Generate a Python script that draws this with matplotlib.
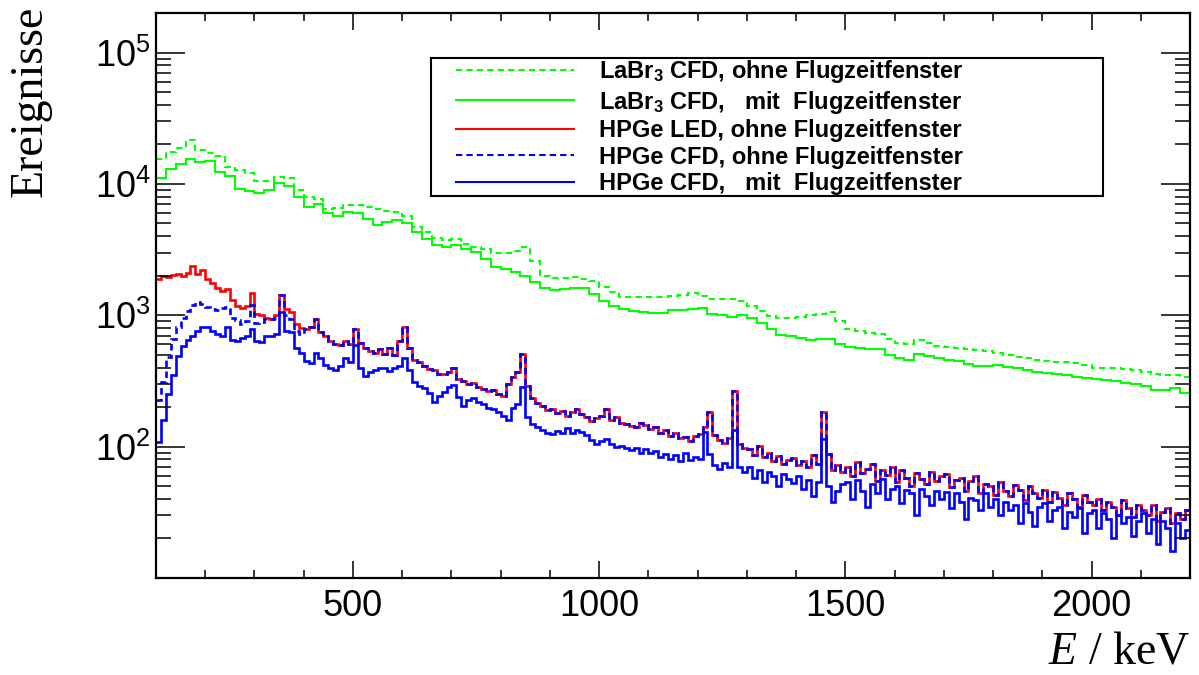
import numpy as np
import matplotlib
matplotlib.use('Agg')
import matplotlib.pyplot as plt
from matplotlib.lines import Line2D
from matplotlib.patches import Rectangle
from matplotlib.ticker import FixedLocator, NullFormatter

plt.rcParams['font.family'] = ['Liberation Sans', 'DejaVu Sans']
plt.rcParams['mathtext.fontset'] = 'custom'
plt.rcParams['mathtext.rm'] = 'Liberation Serif'
plt.rcParams['mathtext.it'] = 'Liberation Serif:italic'
plt.rcParams['mathtext.bf'] = 'Liberation Sans:bold'

# energy range of the histograms (keV)
e_min, e_max = 100, 2200
labr_bin = 20   # LaBr3 spectra
hpge_bin = 10   # HPGe spectra

# LaBr3 CFD, ohne Flugzeitfenster (counts per bin, 100..2200 keV)
labr_ohne = [
    15500, 17500, 18800, 21500, 18200,  # 100-200
    17200, 16300, 13500, 12800, 12200,  # 200-300
    10600, 10500, 11300, 11000, 9000,   # 300-400
    7900, 7700, 6400, 6600, 6850,
    6900, 6700, 6400, 6200, 6100,
    5700, 4700, 4300, 3900, 3750,
    3780, 3500, 3300, 3200, 3000,
    3000, 3100, 3300, 2600, 2000,
    1920, 1930, 1960, 1900, 1830,
    1650, 1500, 1380, 1380, 1370,
    1380, 1380, 1390, 1420, 1470,
    1400, 1320, 1330, 1340, 1290,
    1180, 1070, 980, 950, 950,
    965, 1000, 1030, 1060, 900,
    790, 760, 730, 720, 660,
    620, 600, 645, 610, 585,
    570, 560, 550, 543, 530,
    520, 500, 485, 470, 458,
    450, 443, 437, 430, 415,
    396, 394, 394, 390, 383,
    372, 355, 350, 352, 340,
]

# LaBr3 CFD, mit Flugzeitfenster
labr_mit = [
    11000, 13000, 14300, 15400, 14600,
    14900, 12400, 11400, 9200, 8800,
    8500, 9000, 10200, 9700, 7900,
    6700, 7000, 6000, 5700, 6100,
    6000, 5400, 4850, 5100, 5300,
    5000, 4300, 3800, 3400, 3300,
    3400, 3200, 3050, 2700, 2350,
    2250, 2150, 2000, 1780, 1620,
    1560, 1590, 1610, 1600, 1450,
    1280, 1170, 1110, 1080, 1065,
    1040, 1040, 1090, 1100, 1110,
    1130, 1030, 1000, 975, 1010,
    950, 870, 780, 710, 690,
    670, 650, 655, 665, 600,
    575, 565, 550, 555, 500,
    475, 460, 510, 490, 470,
    455, 445, 425, 408, 412,
    418, 405, 394, 385, 373,
    365, 358, 350, 340, 332,
    328, 322, 315, 306, 298,
    290, 272, 270, 278, 258,
]

# HPGe LED, ohne Flugzeitfenster
hpge_led_ohne = [
    1900, 1980, 1950, 2010, 2050, 2000, 2080, 2380, 2060, 2200,  # 100
    1900, 1760, 1620, 1540, 1580, 1300, 1180, 1140, 1180, 1480,  # 200
    1020, 1000, 960, 930, 1000, 1420, 1120, 1060, 860, 800,      # 300
    780, 820, 930, 740, 700, 640, 600, 590, 640, 600,            # 400
    780, 620, 560, 530, 520, 550, 510, 560, 500, 640,            # 500
    810, 560, 460, 440, 410, 390, 380, 360, 355, 370,            # 600
    395, 330, 315, 300, 305, 285, 275, 265, 270, 250,            # 700
    245, 300, 340, 370, 510, 290, 235, 215, 205, 190,            # 800
    195, 180, 188, 172, 182, 195, 176, 168, 158, 165,            # 900
    172, 192, 160, 168, 152, 150, 143, 140, 152, 145,            # 1000
    136, 142, 126, 134, 120, 126, 116, 118, 110, 121,            # 1100
    124, 140, 185, 122, 112, 106, 116, 265, 104, 97,             # 1200
    96, 86, 102, 84, 90, 78, 85, 74, 79, 82,                     # 1300
    72, 78, 70, 86, 74, 185, 88, 66, 72, 64,                     # 1400
    70, 60, 76, 63, 68, 74, 55, 66, 61, 70,                      # 1500
    54, 66, 58, 50, 63, 57, 52, 64, 55, 60,                      # 1600
    62, 49, 56, 58, 46, 55, 60, 44, 52, 50,                      # 1700
    43, 54, 46, 42, 51, 47, 39, 50, 44, 41,                      # 1800
    47, 38, 45, 41, 36, 44, 40, 35, 43, 38,                      # 1900
    36, 40, 33, 38, 35, 30, 39, 34, 29, 36,                      # 2000
    33, 30, 36, 27, 32, 34, 26, 31, 28, 33,                      # 2100
]

# HPGe CFD, ohne Flugzeitfenster: below 400 keV (above it lies on the LED curve)
hpge_cfd_ohne_low = [
    227, 312, 480, 660, 820, 960, 1080, 1200, 1270, 1220,
    1150, 1120, 1100, 1130, 1160, 960, 920, 860, 900, 1200,
    880, 890, 930, 940, 960, 1420, 1000, 940, 760, 720,
]

# HPGe CFD, mit Flugzeitfenster
hpge_cfd_mit = [
    109, 160, 250, 350, 490, 580, 650, 700, 760, 810,            # 100
    820, 760, 720, 690, 820, 650, 640, 670, 690, 790,            # 200
    640, 630, 690, 700, 720, 1060, 760, 740, 560, 520,           # 300
    450, 430, 520, 470, 420, 400, 385, 410, 470, 440,            # 400
    590, 400, 345, 370, 385, 395, 400, 375, 395, 410,            # 500
    470, 380, 310, 290, 280, 255, 220, 245, 262, 285,            # 600
    295, 240, 205, 228, 235, 218, 212, 198, 194, 185,            # 700
    172, 160, 196, 210, 285, 168, 150, 142, 135, 128,            # 800
    124, 132, 126, 138, 128, 134, 130, 122, 112, 104,            # 900
    110, 114, 105, 100, 102, 98, 94, 97, 90, 96,                 # 1000
    89, 92, 84, 88, 80, 86, 78, 90, 79, 84,                      # 1100
    80, 130, 88, 72, 68, 75, 70, 135, 70, 64,                    # 1200
    70, 58, 66, 54, 64, 60, 50, 62, 57, 53,                      # 1300
    60, 48, 56, 42, 54, 115, 50, 38, 46, 52,                     # 1400
    54, 40, 56, 46, 35, 52, 44, 57, 40, 48,                      # 1500
    50, 37, 47, 44, 30, 48, 42, 36, 46, 40,                      # 1600
    45, 34, 44, 38, 28, 41, 39, 33, 44, 35,                      # 1700
    40, 30, 38, 33, 36, 26, 37, 32, 25, 35,                      # 1800
    37, 27, 33, 35, 24, 32, 29, 34, 22, 31,                      # 1900
    33, 24, 31, 28, 20, 30, 26, 29, 21, 27,                      # 2000
    31, 22, 28, 18, 27, 24, 16, 26, 20, 23,                      # 2100
]

labels = [
    r'LaBr$_\mathbf{3}$ CFD, ohne Flugzeitfenster',
    r'LaBr$_\mathbf{3}$ CFD,   mit  Flugzeitfenster',
    'HPGe LED, ohne Flugzeitfenster',
    'HPGe CFD, ohne Flugzeitfenster',
    'HPGe CFD,   mit  Flugzeitfenster',
]

hpge_cfd_ohne = hpge_cfd_ohne_low + hpge_led_ohne[len(hpge_cfd_ohne_low):]

labr_edges = np.arange(e_min, e_max + 1, labr_bin)
hpge_edges = np.arange(e_min, e_max + 1, hpge_bin)

green, red, blue = '#00ff00', '#ff0000', '#0000ff'
dash = (3, 2)
lw = 1.5
lw_ge = 1.9

fig = plt.figure(figsize=(11.99, 6.75), dpi=100)
ax = fig.add_axes([156 / 1199, 1 - 578 / 675, 1034 / 1199, 565 / 675])

ax.stairs(labr_ohne, labr_edges, baseline=None, color=green, lw=lw, linestyle=(0, dash))
ax.stairs(labr_mit, labr_edges, baseline=None, color=green, lw=lw)
ax.stairs(hpge_led_ohne, hpge_edges, baseline=None, color=red, lw=lw_ge)
ax.stairs(hpge_cfd_ohne, hpge_edges, baseline=None, color=blue, lw=lw_ge, linestyle=(0, (2.5, 1.6)))
ax.stairs(hpge_cfd_mit, hpge_edges, baseline=None, color=blue, lw=lw_ge)

ax.set_yscale('log')
ax.set_xlim(e_min, e_max)
ax.set_ylim(10, 2e5)

ax.xaxis.set_major_locator(FixedLocator([500, 1000, 1500, 2000]))
ax.xaxis.set_minor_locator(FixedLocator(np.arange(200, 2200, 100)))
ax.set_xticklabels(['500', '1000', '1500', '2000'])
decades = [1e2, 1e3, 1e4, 1e5]
ax.yaxis.set_major_locator(FixedLocator(decades))
ax.set_yticklabels([r'$\mathregular{10^{%d}}$' % int(np.log10(d)) for d in decades])
ax.yaxis.set_minor_locator(FixedLocator([m * 10 ** k for k in range(1, 6) for m in range(2, 10)]))
ax.yaxis.set_minor_formatter(NullFormatter())

ax.tick_params(which='both', direction='in', top=True, right=True, labelsize=26, width=1.1, colors='black')
ax.tick_params(axis='y', which='major', length=21, pad=4)
ax.tick_params(axis='y', which='minor', length=11)
ax.tick_params(axis='x', which='major', length=12, pad=8)
ax.tick_params(axis='x', which='minor', length=6)
for s in ax.spines.values():
    s.set_linewidth(1.6)

fig.text(30 / 1199, 1 - 6 / 675, 'Ereignisse', rotation=90, ha='center', va='top',
         family='Liberation Serif', fontsize=33)
fig.text(1190 / 1199, 1 - 664 / 675, r'$\mathit{E}$ / keV', ha='right', va='baseline',
         family='Liberation Serif', fontsize=33)

# legend box drawn separately so the inner padding can match
box = Rectangle((431 / 1199, 1 - 196 / 675), 672 / 1199, 138 / 675, transform=fig.transFigure,
                facecolor='white', edgecolor='black', lw=1.5, zorder=3)
fig.add_artist(box)

handles = [
    Line2D([], [], color=green, lw=lw, linestyle=(0, dash)),
    Line2D([], [], color=green, lw=lw),
    Line2D([], [], color=red, lw=lw),
    Line2D([], [], color=blue, lw=lw, linestyle=(0, dash)),
    Line2D([], [], color=blue, lw=lw),
]
leg = fig.legend(handles, labels, loc='upper left',
                 bbox_to_anchor=(456 / 1199, 1 - 58 / 675),
                 borderaxespad=0, borderpad=0, frameon=False,
                 prop={'weight': 'bold', 'size': 17},
                 handlelength=5.0, handletextpad=1.05, labelspacing=0.15)
leg.set_zorder(4)

fig.savefig('out.png', dpi=100)
